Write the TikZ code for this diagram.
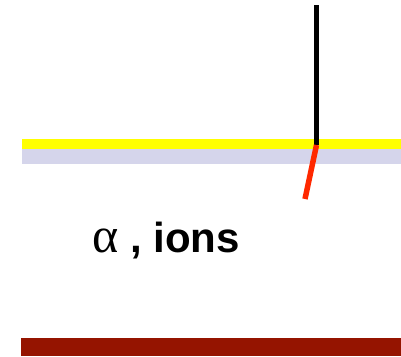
\documentclass[tikz,border=0pt]{standalone}
\usepackage{fontspec}
\setmainfont{Liberation Sans}
\newfontfamily\alphafont{Liberation Serif}
\definecolor{bandyellow}{RGB}{255,255,0}
\definecolor{bandlav}{RGB}{213,213,235}
\definecolor{banddark}{RGB}{149,20,0}
\definecolor{rayred}{RGB}{255,40,0}
\begin{document}
\begin{tikzpicture}[x=1pt,y=-1pt,
  band/.style={draw=none},
  ray/.style={line width=5.5pt},
  lbl/.style={inner sep=0pt,anchor=base west,font=\fontsize{42}{50}\selectfont\bfseries}]
\useasboundingbox (0,0) rectangle (401,356);
\fill[bandyellow] (22,139) rectangle (401,149);
\fill[bandlav] (22,149) rectangle (401,163.5);
\fill[banddark] (21,338) rectangle (401,356);
\coordinate (top) at (316.5,5);
\coordinate (hit) at (316.5,145);
\coordinate (tip) at (305,199);
\draw[ray,black] (top) -- (hit);
\draw[ray,rayred] (hit) -- (tip);
\node[lbl] (label) at (92,252) {{\alphafont\mdseries\fontsize{50}{50}\selectfont α} , ions};
\end{tikzpicture}
\end{document}
